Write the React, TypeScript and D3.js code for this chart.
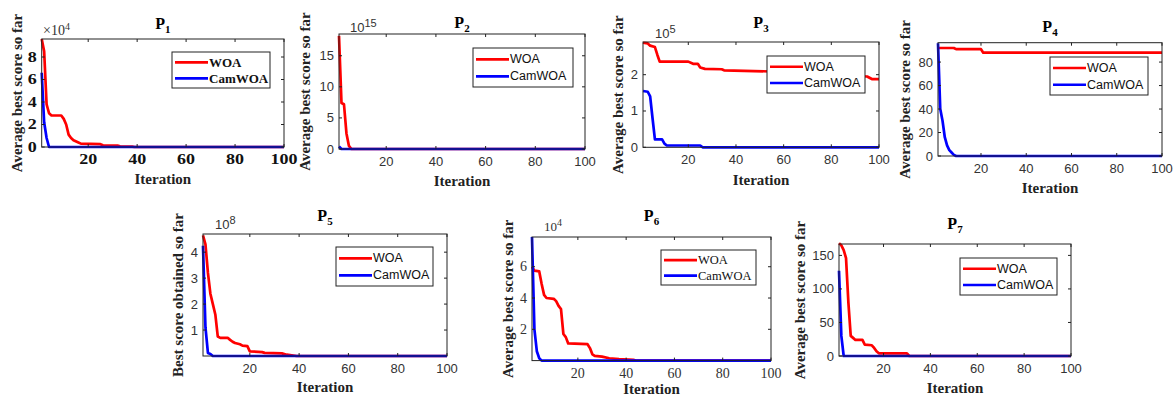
import * as d3 from "d3";

// [iteration, value] breakpoints, values in the axis multiplier units
const woaP1 = [[1, 9.6], [2, 8.5], [3, 3.8], [4, 3.0], [5, 2.8], [9, 2.8], [10, 2.5], [11, 2.0], [12, 1.1], [13, 0.8], [14, 0.6], [16, 0.4], [17, 0.3], [25, 0.25], [26, 0.15], [32, 0.12], [33, 0.06], [38, 0.04], [39, 0], [100, 0]];
const camP1 = [[1, 6.6], [2, 2.2], [3, 0.8], [4, 0], [100, 0]];

const woaP2 = [[1, 18.2], [2, 7.4], [3, 7.2], [4, 2.5], [5, 0.5], [6, 0], [100, 0]];
const camP2 = [[1, 0.4], [2, 0], [100, 0]];

const woaP3 = [[1, 2.88], [3, 2.86], [4, 2.8], [6, 2.76], [7, 2.55], [8, 2.36], [20, 2.36], [22, 2.3], [24, 2.3], [25, 2.2], [27, 2.16], [34, 2.15], [35, 2.12], [60, 2.08], [80, 2.0], [95, 1.95], [97, 1.88], [100, 1.88]];
const camP3 = [[1, 1.55], [3, 1.53], [4, 1.4], [5, 0.8], [6, 0.22], [9, 0.22], [10, 0.1], [11, 0.05], [25, 0.05], [26, 0], [100, 0]];

const woaP4 = [[1, 92], [8, 92], [9, 91], [20, 91], [21, 88], [100, 88]];
const camP4 = [[1, 96], [2, 40], [3, 30], [4, 16], [5, 9], [6, 5], [7, 3], [8, 1], [9, 0], [100, 0]];

const woaP5 = [[1, 4.65], [2, 4.3], [3, 3.2], [4, 2.4], [5, 2.0], [6, 1.6], [7, 0.75], [8, 0.7], [11, 0.7], [12, 0.62], [13, 0.55], [14, 0.5], [16, 0.45], [17, 0.4], [19, 0.38], [20, 0.18], [25, 0.15], [26, 0.12], [33, 0.1], [35, 0.05], [39, 0], [100, 0]];
const camP5 = [[1, 4.25], [2, 1.1], [3, 0.12], [4, 0.08], [5, 0], [100, 0]];

const woaP6 = [[1, 6.0], [2, 5.75], [4, 5.7], [5, 4.9], [6, 4.2], [7, 4.0], [10, 3.95], [11, 3.8], [12, 3.5], [13, 3.3], [14, 1.7], [15, 1.5], [16, 1.1], [24, 1.05], [25, 0.8], [26, 0.4], [27, 0.3], [30, 0.25], [33, 0.15], [37, 0.1], [43, 0.05], [44, 0], [100, 0]];
const camP6 = [[1, 7.9], [2, 2.0], [3, 0.6], [4, 0.15], [5, 0], [100, 0]];

const woaP7 = [[1, 168], [2, 165], [3, 158], [4, 146], [5, 80], [6, 30], [7, 27], [8, 24], [11, 24], [12, 17], [15, 16], [16, 12], [17, 7], [18, 4], [30, 4], [31, 0], [100, 0]];
const camP7 = [[1, 127], [2, 30], [3, 0], [100, 0]];

const xTicks = [20, 40, 60, 80, 100];
const yTicksP1 = [0, 2, 4, 6, 8];
const yTicksP2 = [0, 5, 10, 15];
const yTicksP3 = [0, 1, 2];
const yTicksP4 = [0, 20, 40, 60, 80];
const yTicksP5 = [1, 2, 3, 4];
const yTicksP6 = [2, 4, 6];
const yTicksP7 = [0, 50, 100, 150];

const seriesNames = ["WOA", "CamWOA"];
const seriesColors = ["#ff0000", "#0000ff"];

const SERIF = "'Liberation Serif', 'Times New Roman', serif";
const SANS = "'Liberation Sans', Arial, sans-serif";

const panels = [
  { sub: "1", woa: woaP1, cam: camP1, yMax: 9.6, yTicks: yTicksP1, box: [41.7, 284, 39, 147], tick: "bold", mult: { pre: "\u00d710", exp: "4", x: 43, y: 35, font: "serif", size: 14, expSize: 10 }, titleY: 29, ylab: "Average best score so far", ylabX: 17, xlabY: 184, legend: [172, 52, 98, 36], legFont: "bold" },
  { sub: "2", woa: woaP2, cam: camP2, yMax: 18.5, yTicks: yTicksP2, box: [339, 585, 34, 149], tick: "sans", mult: { pre: "10", exp: "15", x: 350, y: 32, font: "sans", size: 13, expSize: 11 }, titleY: 28, ylab: "Average best score so far", ylabX: 305, xlabY: 186, legend: [473, 48, 100, 39], legFont: "sans" },
  { sub: "3", woa: woaP3, cam: camP3, yMax: 2.9, yTicks: yTicksP3, box: [643, 879, 42, 147.3], tick: "sans", mult: { pre: "10", exp: "5", x: 655, y: 38, font: "sans", size: 13, expSize: 11 }, titleY: 28, ylab: "Average best score so far", ylabX: 618, xlabY: 185, legend: [767, 56, 98, 37], legFont: "sans" },
  { sub: "4", woa: woaP4, cam: camP4, yMax: 96.5, yTicks: yTicksP4, box: [938, 1162, 42.7, 156], tick: "sans", mult: null, titleY: 32, ylab: "Average best score so far", ylabX: 905, xlabY: 193, legend: [1050, 57, 98, 38], legFont: "sans" },
  { sub: "5", woa: woaP5, cam: camP5, yMax: 4.7, yTicks: yTicksP5, box: [203, 447, 234, 356], tick: "sans", mult: { pre: "10", exp: "8", x: 215, y: 229, font: "sans", size: 13, expSize: 11 }, titleY: 221, ylab: "Best score obtained so far", ylabX: 178, xlabY: 392, legend: [336, 247, 97, 39], legFont: "sans" },
  { sub: "6", woa: woaP6, cam: camP6, yMax: 7.9, yTicks: yTicksP6, box: [532, 771, 237, 360.6], tick: "serif", mult: { pre: "10", exp: "4", x: 544, y: 231, font: "serif", size: 13, expSize: 10 }, titleY: 221, ylab: "Average best score so far", ylabX: 508, xlabY: 394, legend: [661, 250, 95, 35], legFont: "serif" },
  { sub: "7", woa: woaP7, cam: camP7, yMax: 167, yTicks: yTicksP7, box: [839, 1071, 244, 356], tick: "sans", mult: null, titleY: 229, ylab: "Average best score so far", ylabX: 800, xlabY: 393, legend: [960, 258, 97, 37], legFont: "sans" },
];

function fontFor(kind) {
  if (kind === "bold") return { fontFamily: SERIF, fontWeight: "bold", fontSize: 15, fill: "#111" };
  if (kind === "serif") return { fontFamily: SERIF, fontWeight: "normal", fontSize: 14, fill: "#333" };
  return { fontFamily: SANS, fontWeight: "normal", fontSize: 13, fill: "#333" };
}

function Panel({ p }) {
  const [x0, x1, y0, y1] = p.box;
  const x = d3.scaleLinear().domain([1, 100]).range([x0, x1]);
  const y = d3.scaleLinear().domain([0, p.yMax]).range([y1, y0]);
  const line = d3.line().x((d) => x(d[0])).y((d) => y(d[1]));
  const tf = fontFor(p.tick);
  const lf = fontFor(p.legFont);
  const [lx, ly, lw, lh] = p.legend;
  const cx = (x0 + x1) / 2;
  const cy = (y0 + y1) / 2;
  const mf = fontFor(p.mult ? p.mult.font : "sans");
  // P1 tick labels look horizontally stretched in the source figure
  const sx = p.tick === "bold" ? 1.2 : 1;

  return (
    <g>
      <rect x={x0} y={y0} width={x1 - x0} height={y1 - y0} fill="#fff" />
      <path d={line(p.woa)} fill="none" stroke={seriesColors[0]} strokeWidth={2.7} strokeLinejoin="round" />
      <path d={line(p.cam)} fill="none" stroke={seriesColors[1]} strokeWidth={2.7} strokeLinejoin="round" />
      <rect x={x0} y={y0} width={x1 - x0} height={y1 - y0} fill="none" stroke="#222" strokeWidth={1} />
      {xTicks.map((t) => (
        <g key={"x" + t}>
          <line x1={x(t)} x2={x(t)} y1={y1} y2={y1 - 3} stroke="#222" />
          <line x1={x(t)} x2={x(t)} y1={y0} y2={y0 + 3} stroke="#222" />
          <text transform={`translate(${x(t)},${y1 + 17}) scale(${sx},1)`} textAnchor="middle" {...tf}>{t}</text>
        </g>
      ))}
      {p.yTicks.map((t) => (
        <g key={"y" + t}>
          <line x1={x0} x2={x0 + 3} y1={y(t)} y2={y(t)} stroke="#222" />
          <line x1={x1} x2={x1 - 3} y1={y(t)} y2={y(t)} stroke="#222" />
          <text transform={`translate(${x0 - 5},${y(t)}) scale(${sx},1)`} textAnchor="end" dominantBaseline="central" {...tf}>{t}</text>
        </g>
      ))}
      {p.mult && (
        <text x={p.mult.x} y={p.mult.y} {...mf} fontSize={p.mult.size}>
          {p.mult.pre}
          <tspan fontSize={p.mult.expSize} dy={-5}>{p.mult.exp}</tspan>
        </text>
      )}
      <text x={cx} y={p.titleY} textAnchor="middle" fontFamily={SERIF} fontWeight="bold" fontSize={16} fill="#000">
        P<tspan fontSize={11} dy={4}>{p.sub}</tspan>
      </text>
      <text x={cx} y={p.xlabY} textAnchor="middle" fontFamily={SERIF} fontWeight="bold" fontSize={15} fill="#222">Iteration</text>
      <text transform={`translate(${p.ylabX},${cy}) rotate(-90)`} textAnchor="middle" dominantBaseline="central" fontFamily={SERIF} fontWeight="bold" fontSize={15} fill="#222">{p.ylab}</text>
      <rect x={lx} y={ly} width={lw} height={lh} fill="#fff" stroke="#222" strokeWidth={1} />
      {seriesNames.map((n, i) => {
        const ry = ly + (i === 0 ? lh * 0.29 : lh * 0.73);
        return (
          <g key={n}>
            <line x1={lx + 3} x2={lx + 36} y1={ry} y2={ry} stroke={seriesColors[i]} strokeWidth={2.7} />
            <text x={lx + 37} y={ry} dominantBaseline="central" {...lf} fontSize={p.legFont === "bold" ? 13 : 12.5} fill="#111">{n}</text>
          </g>
        );
      })}
    </g>
  );
}

export default function App() {
  return (
    <svg width={1175} height={398} style={{ position: "absolute", left: 0, top: 0, background: "#fff" }}>
      {panels.map((p) => (
        <Panel key={p.sub} p={p} />
      ))}
    </svg>
  );
}
